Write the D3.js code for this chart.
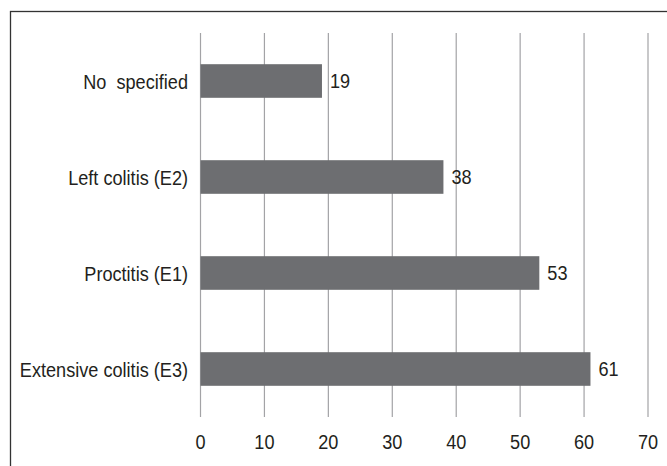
<!DOCTYPE html>
<html>
<head>
<meta charset="utf-8">
<script src="https://cdn.jsdelivr.net/npm/d3@7"></script>
<style>
  html, body { margin: 0; padding: 0; background: #fff; }
  svg { display: block; }
  text { font-family: "Liberation Sans", Arial, sans-serif; fill: #231f20; }
</style>
</head>
<body>
<svg id="chart" width="667" height="466"></svg>
<script>
// UC extent categories, top to bottom
const categories = ["No  specified", "Left colitis (E2)", "Proctitis (E1)", "Extensive colitis (E3)"];
const counts = [19, 38, 53, 61];
const xTicks = [0, 10, 20, 30, 40, 50, 60, 70];

const W = 667, H = 466;
const FONT = 19.5, NARROW = 0.93;   // slightly condensed sans
const svg = d3.select("#chart");

const plot = { left: 200.5, right: 648, top: 33, bottom: 417 };

const x = d3.scaleLinear().domain([0, 70]).range([plot.left, plot.right]);
const y = d3.scaleBand().domain(categories).range([plot.top, plot.bottom]).paddingInner(0.65).paddingOuter(0.325);

// place a text element at (px, py) with horizontal condensing
const place = (px, py) => `translate(${px},${py}) scale(${NARROW},1)`;

// outer frame (open past the right and bottom edges)
svg.append("rect")
  .attr("x", 10.5).attr("y", 11.5)
  .attr("width", W + 20).attr("height", H + 20)
  .attr("fill", "none").attr("stroke", "#333").attr("stroke-width", 1.3);

// vertical gridlines
svg.append("g").selectAll("line").data(xTicks).join("line")
  .attr("x1", d => x(d)).attr("x2", d => x(d))
  .attr("y1", plot.top).attr("y2", plot.bottom)
  .attr("stroke", "#a3a3a6").attr("stroke-width", 1.2);

// bars
svg.append("g").selectAll("rect").data(categories).join("rect")
  .attr("x", x(0))
  .attr("y", d => y(d))
  .attr("width", (d, i) => x(counts[i]) - x(0))
  .attr("height", y.bandwidth())
  .attr("fill", "#6d6e71");

// value labels
svg.append("g").selectAll("text").data(categories).join("text")
  .attr("transform", (d, i) => place(x(counts[i]) + 8, y(d) + y.bandwidth() / 2 + 0.5))
  .attr("dy", "0.35em")
  .attr("font-size", FONT)
  .text((d, i) => counts[i]);

// category axis labels
svg.append("g").selectAll("text").data(categories).join("text")
  .attr("transform", d => place(188, y(d) + y.bandwidth() / 2 + 1))
  .attr("dy", "0.35em")
  .attr("text-anchor", "end")
  .attr("font-size", FONT)
  .attr("xml:space", "preserve")
  .style("white-space", "pre")
  .text(d => d);

// x axis tick labels
svg.append("g").selectAll("text").data(xTicks).join("text")
  .attr("transform", d => place(x(d), 442))
  .attr("dy", "0.35em")
  .attr("text-anchor", "middle")
  .attr("font-size", FONT)
  .text(d => d);
</script>
</body>
</html>
